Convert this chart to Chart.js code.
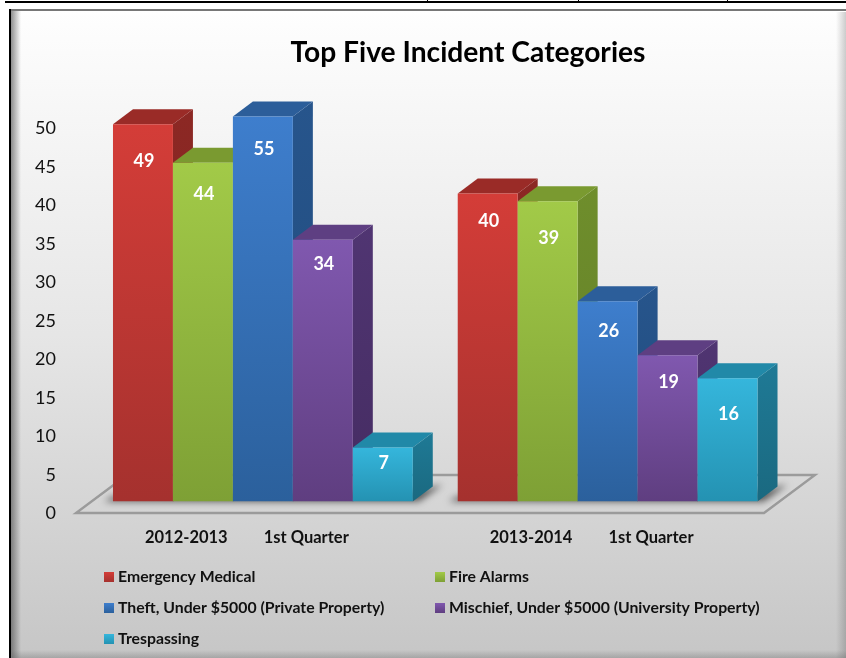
<!DOCTYPE html>
<html>
<head>
<meta charset="utf-8">
<title>Top Five Incident Categories</title>
<script src="https://cdn.jsdelivr.net/npm/chart.js@4"></script>
<style>
  html, body { margin: 0; padding: 0; background: #fff; }
  canvas { display: block; }
</style>
</head>
<body>
<canvas id="myChart" width="846" height="658"></canvas>
<script>
let categories = ["2012-2013         1st Quarter", "2013-2014         1st Quarter"];
let seriesNames = ["Emergency Medical", "Fire Alarms", "Theft, Under $5000 (Private Property)", "Mischief, Under $5000 (University Property)", "Trespassing"];
let emergencyMedical = [49, 40];
let fireAlarms = [44, 39];
let theft = [55, 26];
let mischief = [34, 19];
let trespassing = [7, 16];
let yMax = 50;
let yStep = 5;

// front top, front bottom, top face, side top, side bottom
let faces = [
  ["#d43d38", "#a5312e", "#9a2b27", "#8c2824", "#7e2320"],
  ["#a2ca48", "#7ea035", "#7a9a30", "#6f8e2c", "#627e27"],
  ["#3e7ecd", "#2b609c", "#2c5e9a", "#27558c", "#1f4a7b"],
  ["#8058af", "#5f3e80", "#5e3f82", "#503572", "#452c62"],
  ["#35b6dc", "#2492b2", "#2189a8", "#1f7a96", "#1a6980"]
];
// how far each value label sits under the top of its bar
let labelDrop = [[37, 28], [31, 37], [33, 30], [24, 27], [16, 36]];
let depthX = 20;
let depthY = 15;
let fontName = "Lato, Carlito, sans-serif";

function frontColor(c, i) {
  let y = c.chart.scales.y;
  if (c.raw === undefined || !c.chart.chartArea) return faces[i][0];
  let top = y.getPixelForValue(Math.min(c.raw, yMax));
  let bottom = y.getPixelForValue(0);
  if (!isFinite(top) || !isFinite(bottom)) return faces[i][0];
  let grad = c.chart.ctx.createLinearGradient(0, top, 0, bottom);
  grad.addColorStop(0, faces[i][0]);
  grad.addColorStop(1, faces[i][1]);
  return grad;
}

function poly(ctx, pts) {
  ctx.beginPath();
  ctx.moveTo(pts[0][0], pts[0][1]);
  for (let i = 1; i < pts.length; i++) ctx.lineTo(pts[i][0], pts[i][1]);
  ctx.closePath();
}

let panel = {
  id: "panel",
  beforeDraw(chart) {
    let ctx = chart.ctx;
    let w = chart.width, h = chart.height;
    ctx.save();
    ctx.fillStyle = "#fff";
    ctx.fillRect(0, 0, w, h);

    // table rules cut off above the chart
    ctx.fillStyle = "#000";
    ctx.fillRect(5, 1, w - 5, 2);
    ctx.fillRect(427, 0, 1, 3);
    ctx.fillRect(578, 0, 1, 3);
    ctx.fillRect(727, 0, 1, 3);

    let bg = ctx.createLinearGradient(0, 12, 0, h);
    bg.addColorStop(0, "#fefefe");
    bg.addColorStop(0.5, "#e6e6e6");
    bg.addColorStop(1, "#c6c6c6");
    ctx.fillStyle = bg;
    ctx.fillRect(9, 9, w - 9, h - 9);

    // bevel
    let g = ctx.createLinearGradient(11, 0, 21, 0);
    g.addColorStop(0, "rgba(70,70,70,.6)");
    g.addColorStop(1, "rgba(70,70,70,0)");
    ctx.fillStyle = g;
    ctx.fillRect(11, 11, 10, h - 11);
    g = ctx.createLinearGradient(0, 11, 0, 20);
    g.addColorStop(0, "rgba(255,255,255,1)");
    g.addColorStop(1, "rgba(255,255,255,0)");
    ctx.fillStyle = g;
    ctx.fillRect(21, 11, w - 21, 9);
    g = ctx.createLinearGradient(836, 0, 846, 0);
    g.addColorStop(0, "rgba(90,90,90,0)");
    g.addColorStop(1, "rgba(90,90,90,.3)");
    ctx.fillStyle = g;
    ctx.fillRect(836, 12, 10, h - 12);
    g = ctx.createLinearGradient(0, 650, 0, 658);
    g.addColorStop(0, "rgba(90,90,90,0)");
    g.addColorStop(1, "rgba(90,90,90,.3)");
    ctx.fillStyle = g;
    ctx.fillRect(12, 650, w - 12, 8);

    ctx.fillStyle = "#777";
    ctx.fillRect(9, 9, w - 9, 2);
    ctx.fillStyle = "#000";
    ctx.fillRect(9, 9, 2, h - 9);
    ctx.restore();
  },
  afterDraw(chart) {
    let ctx = chart.ctx;
    ctx.save();
    ctx.fillStyle = "#000";
    ctx.textAlign = "center";
    ctx.textBaseline = "middle";
    ctx.font = "bold 28.2px " + fontName;
    ctx.fillText("Top Five Incident Categories", 468, 53);

    // legend, two columns
    ctx.textAlign = "left";
    ctx.font = "bold 15.8px " + fontName;
    chart.data.datasets.forEach(function (ds, i) {
      let col = i % 2 === 0 ? 104 : 435;
      let row = 577 + Math.floor(i / 2) * 31;
      let g = ctx.createLinearGradient(0, row - 5, 0, row + 5);
      g.addColorStop(0, faces[i][0]);
      g.addColorStop(1, faces[i][1]);
      ctx.fillStyle = g;
      ctx.fillRect(col, row - 5, 10, 10);
      ctx.fillStyle = "#111";
      ctx.fillText(ds.label, col + 14, row);
    });
    ctx.restore();
  }
};

let bars3d = {
  id: "bars3d",
  beforeDatasetsDraw(chart) {
    let ctx = chart.ctx;
    let a = chart.chartArea;
    let first = chart.getDatasetMeta(0).data;
    let last = chart.getDatasetMeta(4).data;
    ctx.save();

    ctx.strokeStyle = "#9b9b9b";
    ctx.lineWidth = 2.4;
    ctx.lineJoin = "miter";
    poly(ctx, [[a.left - 14.5, a.bottom + 11.5], [a.right - 16, a.bottom + 11.5], [a.right + 35, a.bottom - 26.5], [a.left + 36.5, a.bottom - 26.5]]);
    ctx.stroke();

    // soft shadow round the foot of each group, the shape itself is off canvas
    ctx.shadowColor = "rgba(0,0,0,.6)";
    ctx.shadowBlur = 7;
    ctx.shadowOffsetX = 2000;
    ctx.fillStyle = "#000";
    for (let k = 0; k < first.length; k++) {
      let l = first[k].x - first[k].width / 2 - 2000;
      let r = last[k].x + last[k].width / 2 - 2000;
      poly(ctx, [[l - 9, a.bottom], [l, a.bottom - 5], [r, a.bottom - 10], [r + 30, a.bottom - 17], [r + 6, a.bottom]]);
      ctx.fill();
    }
    ctx.restore();
  },
  beforeDatasetDraw() {
    // the library paints last dataset first, here the left bars must go down first
    return false;
  },
  afterDatasetsDraw(chart) {
    let ctx = chart.ctx;
    let a = chart.chartArea;
    for (let i = 0; i < chart.data.datasets.length; i++) {
      let meta = chart.getDatasetMeta(i);
      let f = faces[i];
      ctx.save();
      meta.data.forEach(function (bar) {
        let l = bar.x - bar.width / 2;
        let r = bar.x + bar.width / 2;
        let t = Math.max(bar.y, a.top);
        let b = a.bottom;
        let g = ctx.createLinearGradient(0, t - depthY, 0, b);
        g.addColorStop(0, f[3]);
        g.addColorStop(1, f[4]);
        ctx.fillStyle = g;
        poly(ctx, [[r, t], [r + depthX, t - depthY], [r + depthX, b - depthY], [r, b]]);
        ctx.fill();
        ctx.fillStyle = f[2];
        poly(ctx, [[l, t], [l + depthX, t - depthY], [r + depthX, t - depthY], [r, t]]);
        ctx.fill();
      });
      // front face, cut at the axis maximum
      ctx.beginPath();
      ctx.rect(a.left, a.top, a.right - a.left, a.bottom - a.top);
      ctx.clip();
      meta.controller.draw();
      ctx.restore();
    }

    ctx.save();
    ctx.fillStyle = "#fff";
    ctx.textAlign = "center";
    ctx.textBaseline = "middle";
    ctx.font = "bold 18px " + fontName;
    chart.data.datasets.forEach(function (ds, i) {
      chart.getDatasetMeta(i).data.forEach(function (bar, k) {
        let t = Math.max(bar.y, a.top);
        ctx.fillText(ds.data[k], bar.x + 1, t + labelDrop[i][k]);
      });
    });
    ctx.restore();
  }
};

let seriesValues = [emergencyMedical, fireAlarms, theft, mischief, trespassing];
let datasets = seriesNames.map(function (name, i) {
  return {
    label: name,
    data: seriesValues[i],
    borderWidth: 0,
    backgroundColor: function (c) { return frontColor(c, i); }
  };
});

window.onload = function () {
  let ctx = document.getElementById("myChart").getContext("2d");
  window.myChart = new Chart(ctx, {
    type: "bar",
    data: { labels: categories, datasets: datasets },
    plugins: [panel, bars3d],
    options: {
      responsive: false,
      animation: false,
      layout: { autoPadding: false, padding: { top: 116.5, right: 66, bottom: 0, left: 0 } },
      plugins: { legend: { display: false }, title: { display: false }, tooltip: { enabled: false } },
      datasets: { bar: { categoryPercentage: 0.8696, barPercentage: 1 } },
      scales: {
        x: {
          grid: { display: false, drawTicks: false },
          border: { display: false },
          afterFit: function (s) { s.height = 156.5; },
          ticks: {
            autoSkip: false, maxRotation: 0, minRotation: 0, padding: 26, labelOffset: -16,
            color: "#111", font: { family: fontName, size: 16.5, weight: "bold" }
          }
        },
        y: {
          min: 0,
          max: yMax,
          grid: { display: false, drawTicks: false },
          border: { display: false },
          afterFit: function (s) { s.width = 90.5; },
          ticks: {
            stepSize: yStep, padding: 34.5, labelOffset: 12,
            color: "#111", font: { family: fontName, size: 18 }
          }
        }
      }
    }
  });
};
</script>
</body>
</html>
